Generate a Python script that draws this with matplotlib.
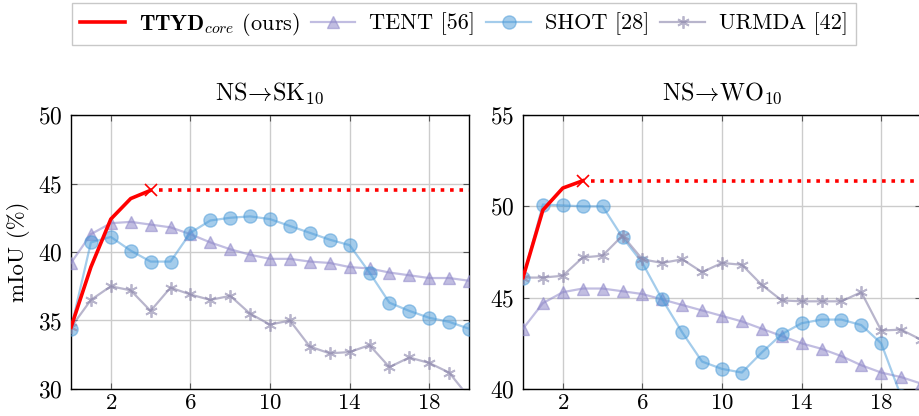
import matplotlib
matplotlib.use('Agg')
import matplotlib.pyplot as plt
from matplotlib.lines import Line2D

plt.rcParams['font.family'] = ['cmr10', 'DejaVu Serif']
plt.rcParams['mathtext.fontset'] = 'cm'
plt.rcParams['axes.formatter.use_mathtext'] = True

# Datos (pasos 0..20)
pasos = list(range(21))

# NS -> SK10
sk_ttyd_x = [0, 1, 2, 3, 4]
sk_ttyd = [34.5, 38.9, 42.4, 43.9, 44.5]
sk_tent = [39.2, 41.3, 42.1, 42.2, 42.0, 41.8, 41.3, 40.7, 40.2, 39.8, 39.5,
           39.5, 39.3, 39.2, 38.9, 38.8, 38.5, 38.3, 38.1, 38.1, 37.9]
sk_shot = [34.4, 40.7, 41.1, 40.1, 39.3, 39.3, 41.4, 42.3, 42.5, 42.6, 42.4,
           41.9, 41.4, 40.9, 40.5, 38.5, 36.3, 35.7, 35.2, 34.9, 34.4]
sk_urmda = [34.5, 36.5, 37.5, 37.2, 35.7, 37.4, 36.9, 36.5, 36.8, 35.5, 34.7,
            35.0, 33.1, 32.6, 32.7, 33.2, 31.6, 32.3, 31.9, 31.2, 29.4]

# NS -> WO10
wo_ttyd_x = [0, 1, 2, 3]
wo_ttyd = [46.1, 49.8, 51.0, 51.4]
wo_tent = [43.3, 44.7, 45.3, 45.5, 45.5, 45.35, 45.2, 44.9, 44.6, 44.3, 44.0,
           43.7, 43.3, 42.9, 42.5, 42.2, 41.8, 41.3, 40.9, 40.65, 40.3]
wo_shot = [46.05, 50.1, 50.05, 50.0, 50.0, 48.3, 46.9, 44.9, 43.1, 41.5, 41.1,
           40.9, 42.0, 43.0, 43.6, 43.8, 43.8, 43.5, 42.5, 39.6, 38.8]
wo_urmda = [46.1, 46.1, 46.2, 47.2, 47.3, 48.4, 47.1, 46.9, 47.1, 46.4, 46.9,
            46.8, 45.7, 44.85, 44.8, 44.8, 44.8, 45.3, 43.2, 43.25, 42.7]

xticks = [2, 6, 10, 14, 18]

c_red = '#ff0000'
c_tent = '#8f88c9'
c_shot = '#4a9ad8'
c_urmda = '#8a84aa'

fig = plt.figure(figsize=(9.19, 4.16), dpi=100)
ax1 = fig.add_axes([71/919, 27/416, 398/919, 274/416])
ax2 = fig.add_axes([523/919, 27/416, 398/919, 274/416])


def dibujar(ax, tx, ty, tent, shot, urmda, ylim, yticks, titulo):
    ax.plot(pasos, tent, color=c_tent, alpha=0.55, lw=1.6, marker='^', ms=8, zorder=3)
    ax.plot(pasos, shot, color=c_shot, alpha=0.5, lw=1.6, marker='o', ms=9.5, zorder=3)
    ax.plot(pasos, urmda, color=c_urmda, alpha=0.6, lw=1.6, marker=(6, 2, 0), ms=9,
            mew=1.3, zorder=3)
    ax.plot(tx, ty, color=c_red, lw=2.6, zorder=5)
    ax.plot(tx[-1], ty[-1], color=c_red, marker='x', ms=9, mew=1.2, zorder=5)
    ax.plot([tx[-1] + 0.4, 20], [ty[-1], ty[-1]], color=c_red, lw=2.6,
            ls=(0, (1, 1.6)), zorder=5)
    ax.set_xlim(0, 20)
    ax.set_ylim(*ylim)
    ax.set_xticks(xticks)
    ax.set_yticks(yticks)
    ax.grid(True, color='#cccccc', lw=1)
    ax.set_axisbelow(True)
    ax.tick_params(direction='in', top=True, right=True, labelsize=17, length=4,
                   color='#555555')
    ax.tick_params(axis='y', pad=6)
    ax.tick_params(axis='x', pad=3, labelsize=16.5)
    for s in ax.spines.values():
        s.set_linewidth(1.0)
    ax.set_title(titulo, fontsize=17.5, pad=11)


dibujar(ax1, sk_ttyd_x, sk_ttyd, sk_tent, sk_shot, sk_urmda, (30, 50),
        [30, 35, 40, 45, 50], r'NS$\!\rightarrow\!$SK$_{10}$')
dibujar(ax2, wo_ttyd_x, wo_ttyd, wo_tent, wo_shot, wo_urmda, (40, 55),
        [40, 45, 50, 55], r'NS$\!\rightarrow\!$WO$_{10}$')
ax1.set_ylabel('mIoU (%)', fontsize=16.5, labelpad=6)

handles = [
    Line2D([], [], color=c_red, lw=2.6),
    Line2D([], [], color=c_tent, alpha=0.55, lw=1.6, marker='^', ms=8),
    Line2D([], [], color=c_shot, alpha=0.5, lw=1.6, marker='o', ms=9.5),
    Line2D([], [], color=c_urmda, alpha=0.6, lw=1.6, marker=(6, 2, 0), ms=9, mew=1.3),
]
labels = [r'$\mathbf{TTYD}_{core}$ (ours)', 'TENT [56]', 'SHOT [28]', 'URMDA [42]']
leg = fig.legend(handles, labels, loc='center', bbox_to_anchor=(464/919, 1 - 24/416),
                 ncol=4, fontsize=16, frameon=True, fancybox=False, edgecolor='#bbbbbb',
                 handlelength=2.0, handletextpad=0.63, columnspacing=0.5,
                 borderpad=0.35)
leg.get_frame().set_linewidth(1.0)

fig.savefig('out.png', dpi=100)
